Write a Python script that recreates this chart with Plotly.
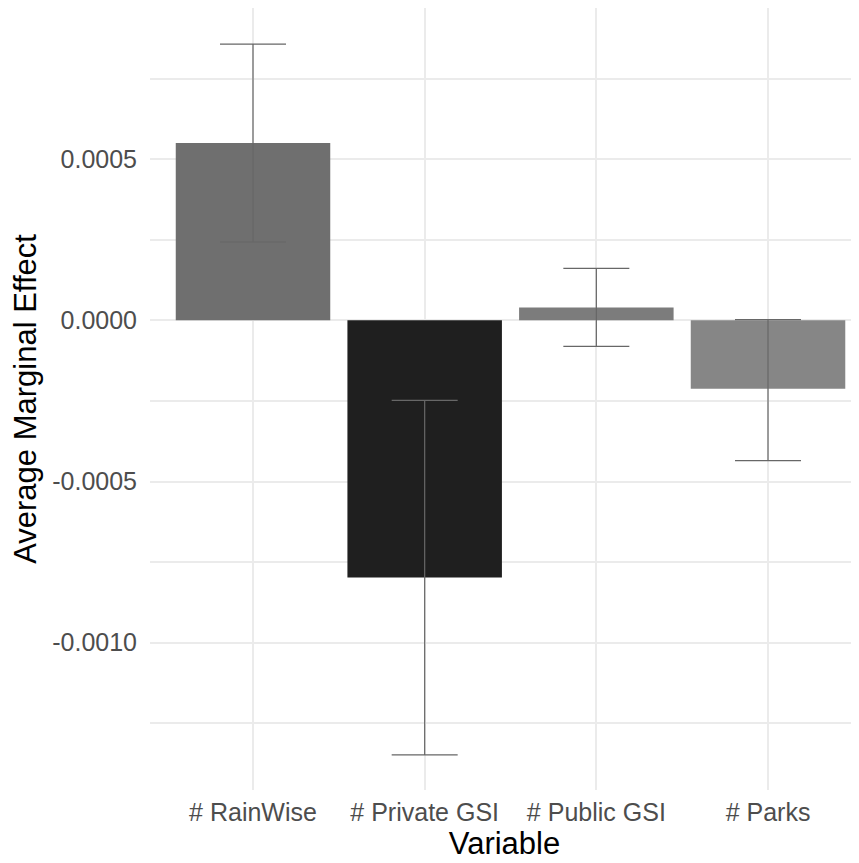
import plotly.graph_objects as go

categories = ["# RainWise", "# Private GSI", "# Public GSI", "# Parks"]
ame = [0.000550, -0.000798, 0.000040, -0.000212]
ci_upper = [0.000857, -0.000248, 0.000161, 0.000002]
ci_lower = [0.000243, -0.001348, -0.000081, -0.000435]
bar_colors = ["#6f6f6f", "#1f1f1f", "#7c7c7c", "#868686"]

ytick_vals = [0.0005, 0.0, -0.0005, -0.0010]
ytick_text = ["0.0005", "0.0000", "-0.0005", "-0.0010"]
yminor_vals = [0.00075, 0.00025, -0.00025, -0.00075, -0.00125]

err_plus = [u - v for u, v in zip(ci_upper, ame)]
err_minus = [v - l for v, l in zip(ame, ci_lower)]

fig = go.Figure()
fig.add_trace(go.Bar(
    x=categories,
    y=ame,
    width=0.9,
    marker=dict(color=bar_colors, line=dict(width=0)),
    error_y=dict(type="data", symmetric=False, array=err_plus, arrayminus=err_minus,
                 color="#676767", thickness=1.2, width=33),
    showlegend=False,
))

font_family = "Liberation Sans, Arial, sans-serif"
fig.update_layout(
    width=851, height=855,
    margin=dict(l=142, r=0, t=0, b=73),
    paper_bgcolor="white", plot_bgcolor="white",
    font=dict(family=font_family),
    xaxis=dict(
        range=[-0.6, 3.53],
        automargin=False,
        showgrid=True, gridcolor="#ebebeb", gridwidth=2,
        zeroline=False, showline=False, ticks="",
        tickfont=dict(size=25, color="#4d4d4d"),
        ticklabelstandoff=5,
        title=dict(text="Variable", font=dict(size=31, color="black"), standoff=4),
    ),
    yaxis=dict(
        range=[-0.001457, 0.000969],
        automargin=False,
        tickmode="array", tickvals=ytick_vals, ticktext=ytick_text,
        showgrid=True, gridcolor="#ebebeb", gridwidth=2,
        minor=dict(tickmode="array", tickvals=yminor_vals, showgrid=True,
                   gridcolor="#ebebeb", gridwidth=1.5, ticks=""),
        zeroline=False, showline=False, ticks="",
        tickfont=dict(size=25, color="#4d4d4d"),
        ticklabelstandoff=12,
        title=dict(text="Average Marginal Effect", font=dict(size=31, color="black"), standoff=16),
    ),
)

fig.write_html("out.html")
